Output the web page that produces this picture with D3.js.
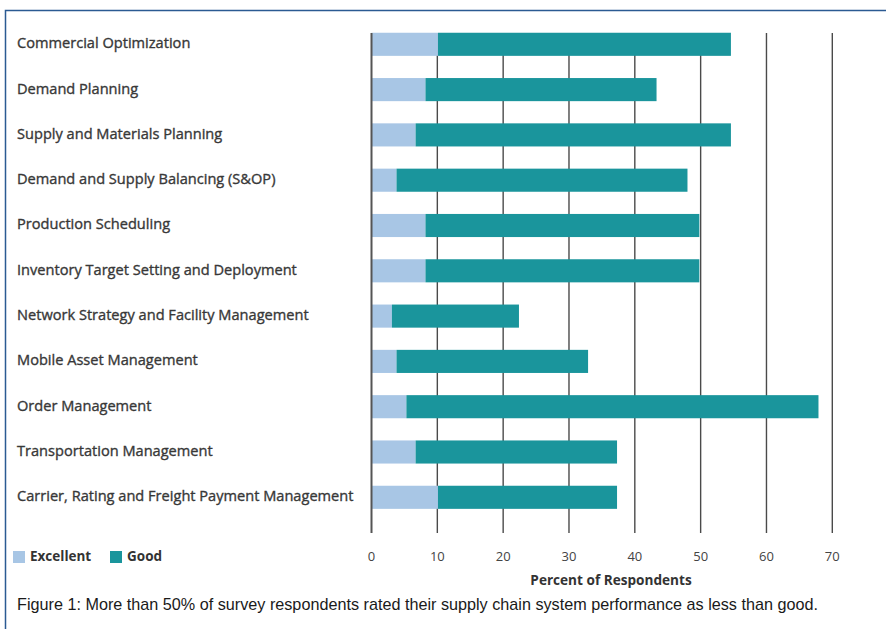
<!DOCTYPE html>
<html>
<head>
<meta charset="utf-8">
<script src="https://cdn.jsdelivr.net/npm/d3@7"></script>
<style>
  body { margin: 0; background: #fff; }
  svg text { font-family: "Open Sans", "DejaVu Sans", sans-serif; }
</style>
</head>
<body>
<div id="vis"></div>
<script>
const W = 886, H = 629;

// data (percent of respondents)
const categories = [
    "Commercial Optimization",
    "Demand Planning",
    "Supply and Materials Planning",
    "Demand and Supply Balancing (S&OP)",
    "Production Scheduling",
    "Inventory Target Setting and Deployment",
    "Network Strategy and Facility Management",
    "Mobile Asset Management",
    "Order Management",
    "Transportation Management",
    "Carrier, Rating and Freight Payment Management"
];
const excellent = [10.1, 8.2, 6.7, 3.8, 8.2, 8.2, 3.1, 3.8, 5.3, 6.7, 10.1];
const good      = [44.5, 35.1, 47.9, 44.2, 41.6, 41.6, 19.3, 29.1, 62.6, 30.6, 27.2];
const ticks = [0, 10, 20, 30, 40, 50, 60, 70];
const seriesNames = ["Excellent", "Good"];
const colors = ["#a8c6e5", "#1a959c"];

const svg = d3.select("#vis").append("svg")
    .attr("width", W)
    .attr("height", H);

// frame
svg.append("path")
    .attr("d", `M5.5,${H} V10.5 H${W}`)
    .attr("fill", "none")
    .attr("stroke", "#2b5a92")
    .attr("stroke-width", 1.5);

const x = d3.scaleLinear().domain([0, 70]).range([371.5, 832.3]);
const y = d3.scaleBand()
    .domain(categories)
    .range([21.65, 519.95])
    .paddingInner(0.49)
    .paddingOuter(0.245);

const gridTop = 33, gridBottom = 533;

// gridlines (drawn under the bars)
svg.append("g").selectAll("line")
    .data(ticks.filter(d => d > 0))
    .join("line")
        .attr("x1", d => x(d)).attr("x2", d => x(d))
        .attr("y1", gridTop).attr("y2", gridBottom)
        .attr("stroke", "#4a4a4a")
        .attr("stroke-width", 1.4);

const rows = categories.map((c, i) => ({ cat: c, exc: excellent[i], good: good[i] }));

const bars = svg.append("g");
bars.selectAll(".bar-exc")
    .data(rows)
    .join("rect")
        .attr("class", "bar-exc")
        .attr("x", x(0))
        .attr("y", d => y(d.cat))
        .attr("width", d => x(d.exc) - x(0))
        .attr("height", y.bandwidth())
        .attr("fill", colors[0]);
bars.selectAll(".bar-good")
    .data(rows)
    .join("rect")
        .attr("class", "bar-good")
        .attr("x", d => x(d.exc))
        .attr("y", d => y(d.cat))
        .attr("width", d => x(d.exc + d.good) - x(d.exc))
        .attr("height", y.bandwidth())
        .attr("fill", colors[1]);

// zero line on top
svg.append("line")
    .attr("x1", x(0)).attr("x2", x(0))
    .attr("y1", gridTop).attr("y2", gridBottom)
    .attr("stroke", "#555")
    .attr("stroke-width", 2);

// category labels
svg.append("g").selectAll("text")
    .data(categories)
    .join("text")
        .attr("x", 17)
        .attr("y", d => y(d) + y.bandwidth() / 2)
        .attr("dominant-baseline", "middle")
        .style("font-size", "14.6px")
        .style("fill", "#383838")
        .style("stroke", "#383838")
        .style("stroke-width", 0.35)
        .text(d => d);

// tick labels
svg.append("g").selectAll("text")
    .data(ticks)
    .join("text")
        .attr("x", d => x(d))
        .attr("y", 558)
        .attr("text-anchor", "middle")
        .attr("dominant-baseline", "middle")
        .style("font-size", "13px")
        .style("fill", "#444")
        .text(d => d);

svg.append("text")
    .attr("x", 611)
    .attr("y", 581)
    .attr("text-anchor", "middle")
    .attr("dominant-baseline", "middle")
    .style("font-size", "13.6px")
    .style("font-weight", "bold")
    .style("fill", "#333")
    .text("Percent of Respondents");

// legend
const legendX = [13, 110];
const legend = svg.append("g").selectAll("g")
    .data(seriesNames)
    .join("g")
        .attr("transform", (d, i) => `translate(${legendX[i]},557)`);
legend.append("rect")
    .attr("x", 0).attr("y", -6)
    .attr("width", 12).attr("height", 12)
    .attr("fill", (d, i) => colors[i]);
legend.append("text")
    .attr("x", 17)
    .attr("dominant-baseline", "middle")
    .style("font-size", "13.5px")
    .style("font-weight", "bold")
    .style("fill", "#333")
    .text(d => d);

// caption, squeezed to the width of the original condensed face
const caption = svg.append("text")
    .attr("x", 17)
    .attr("y", 610)
    .attr("textLength", 801)
    .attr("lengthAdjust", "spacingAndGlyphs")
    .style("font-family", "'Liberation Sans', Arial, sans-serif")
    .style("font-size", "17px")
    .style("fill", "#1a1a1a");
caption.append("tspan")
    .text("Figure 1:");
caption.append("tspan")
    .text(" More than 50% of survey respondents rated their supply chain system performance as less than good.");
</script>
</body>
</html>
